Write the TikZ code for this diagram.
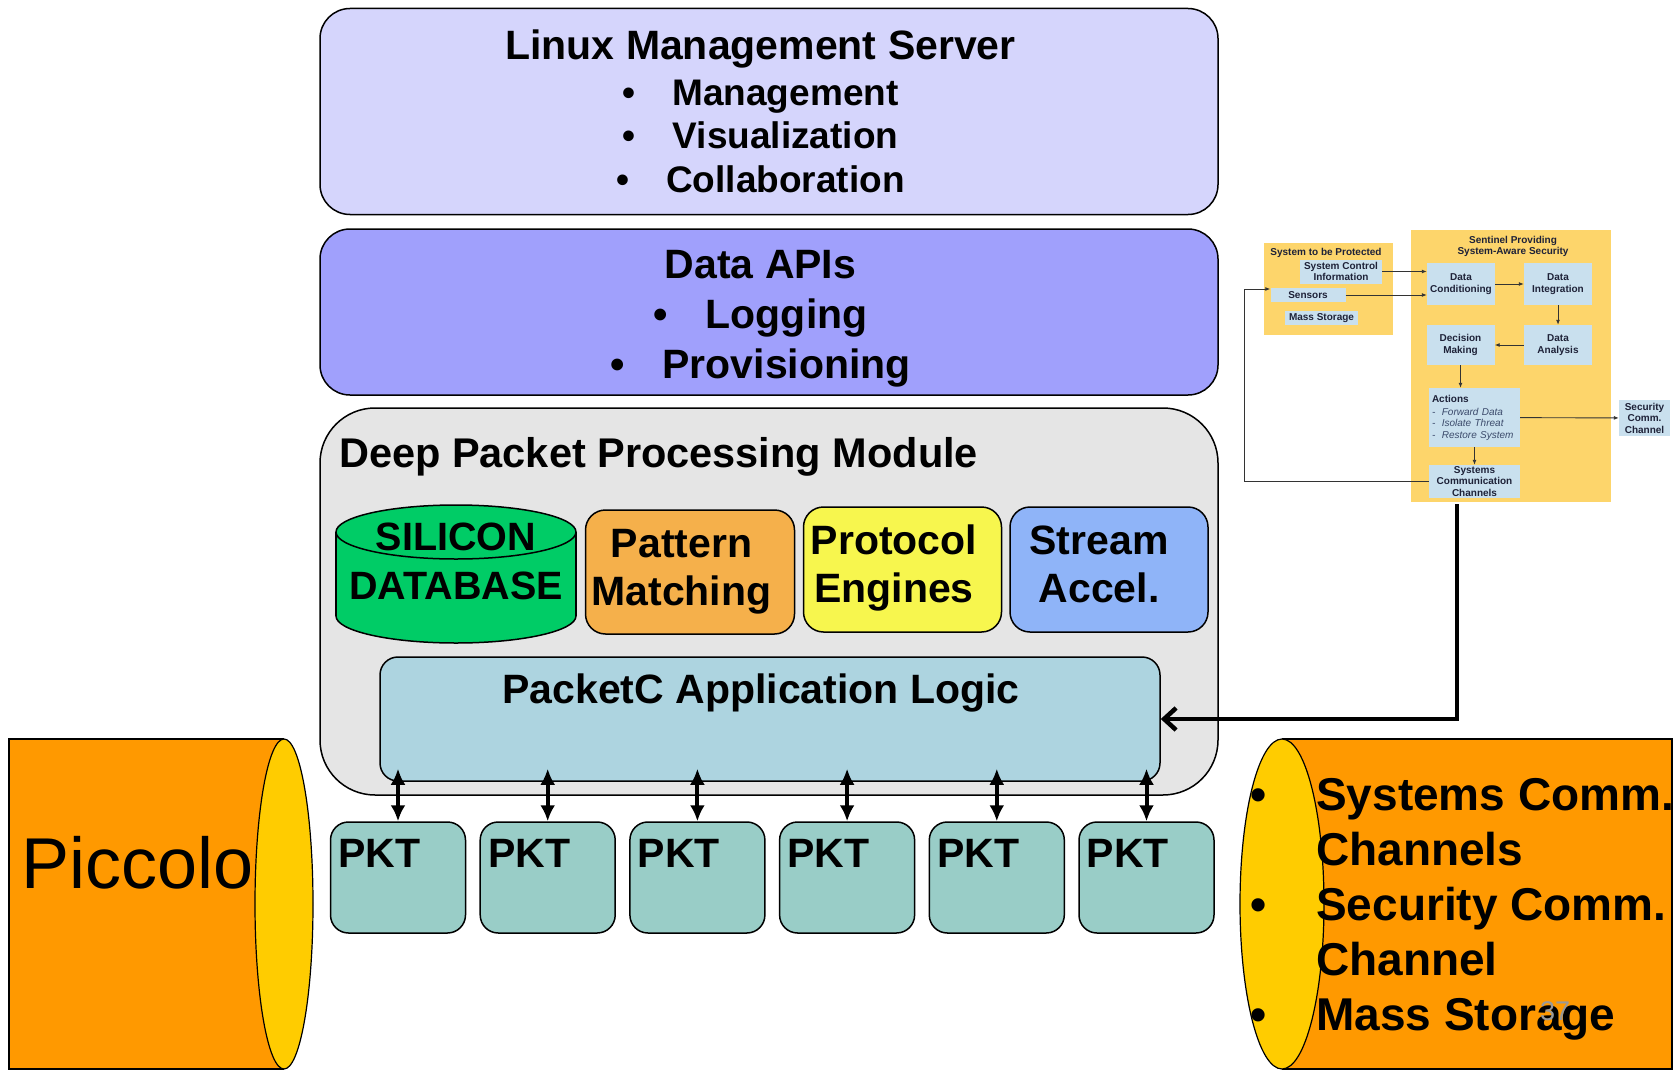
\documentclass[tikz,border=0pt]{standalone}
\usepackage{fontspec}
\setmainfont{Liberation Sans}
\usetikzlibrary{positioning,arrows.meta,calc}

\definecolor{mgmtfill}{HTML}{D5D5FC}
\definecolor{apifill}{HTML}{A0A0FC}
\definecolor{dppfill}{HTML}{E5E5E5}
\definecolor{dbfill}{HTML}{00CC66}
\definecolor{patfill}{HTML}{F5B04B}
\definecolor{protofill}{HTML}{F7F64E}
\definecolor{streamfill}{HTML}{8FB4F8}
\definecolor{appfill}{HTML}{ADD4E0}
\definecolor{pktfill}{HTML}{99CDC7}
\definecolor{pipefill}{HTML}{FF9900}
\definecolor{capfill}{HTML}{FFCC00}
\definecolor{insetyellow}{HTML}{FDD56B}
\definecolor{insetblue}{HTML}{C9E0EE}
\definecolor{insettext}{HTML}{1E2238}
\definecolor{insetitalic}{HTML}{3B4A6B}

\tikzset{
  layer/.style={draw, line width=1.5pt, rounded corners=30pt, inner sep=0pt},
  unit/.style={draw, line width=1.5pt, rounded corners=20pt, inner sep=0pt},
  head/.style={inner sep=0pt, align=center, font=\fontsize{41}{48}\selectfont\bfseries},
  pktbox/.style={draw, line width=1.5pt, rounded corners=18pt, fill=pktfill,
    minimum width=135pt, minimum height=111pt},
  link/.style={{Latex[length=16pt,width=15pt]}-{Latex[length=16pt,width=15pt]}, line width=4pt},
  feed/.style={-{Straight Barb[length=12pt,width=22pt]}, line width=4.5pt},
  panel/.style={fill=insetyellow, inner sep=0pt},
  inbox/.style={fill=insetblue, inner sep=0pt, align=center, text=insettext,
    font=\fontsize{10}{11.5}\selectfont\bfseries},
  intitle/.style={inner sep=0pt, align=center, text=insettext,
    font=\fontsize{10}{11.5}\selectfont\bfseries},
  flow/.style={-{Latex[length=5pt,width=4pt]}, line width=0.9pt, draw=black!80},
}

\begin{document}
\begin{tikzpicture}[x=1pt, y=-1pt]
  \useasboundingbox (0,0) rectangle (1673,1070);

  % Linux management server
  \node[layer, fill=mgmtfill, minimum width=898pt, minimum height=206pt] (mgmt) at (769,111.5) {};
  \node[head, font=\fontsize{37}{43.5}\selectfont\bfseries] (mgmttext) at (760.5,111.5)
    {{\fontsize{41}{48}\selectfont Linux Management Server}\\[2pt]
     \textbullet\hspace{37pt}Management\\
     \textbullet\hspace{37pt}Visualization\\
     \textbullet\hspace{37pt}Collaboration};

  % Data APIs
  \node[layer, fill=apifill, minimum width=898pt, minimum height=166pt] (api) at (769,312) {};
  \node[head, font=\fontsize{41}{50}\selectfont\bfseries] (apitext) at (760.5,318.5)
    {Data APIs\\
     \textbullet\hspace{38pt}Logging\\
     \textbullet\hspace{38pt}Provisioning};

  % Deep packet processing module
  \node[layer, fill=dppfill, rounded corners=55pt, minimum width=898pt,
    minimum height=387pt] (dpp) at (769,601.5) {};
  \node[head, anchor=base west, font=\fontsize{41.5}{48}\selectfont\bfseries] (dpptitle)
    at (339,467.5) {Deep Packet Processing Module};

  % Silicon database
  \draw[fill=dbfill, line width=1.5pt] (456,616) ellipse [x radius=120, y radius=27];
  \fill[dbfill] (336,532) rectangle (576,616);
  \draw[line width=1.5pt] (336,532) -- (336,616) (576,532) -- (576,616);
  \draw[fill=dbfill, line width=1.5pt] (456,532) ellipse [x radius=120, y radius=27];
  \node[head, font=\fontsize{39.5}{49}\selectfont\bfseries] (silicon)
    at (456,561.5) {SILICON\\DATABASE};

  % Engines
  \node[unit, fill=patfill, minimum width=209pt, minimum height=124pt] (pattern) at (690,572) {};
  \node[head] (patterntext) at (681.5,572) {Pattern\\Matching};
  \node[unit, fill=protofill, minimum width=198pt, minimum height=125pt] (protocol) at (902.5,569.5) {};
  \node[head] (protocoltext) at (894,567.5) {Protocol\\Engines};
  \node[unit, fill=streamfill, minimum width=198pt, minimum height=125pt] (stream) at (1109,569.5) {};
  \node[head] (streamtext) at (1099,564.5) {Stream\\Accel.};

  % PacketC application logic
  \node[unit, fill=appfill, rounded corners=18pt, minimum width=780pt,
    minimum height=124pt] (app) at (770,719) {};
  \node[head, anchor=base] (apptitle) at (761,703.5) {PacketC Application Logic};

  % Packet engines
  \foreach \i in {1,...,6} {
    \node[pktbox] (pkt\i) at ({398+149.7*(\i-1)},877.5) {};
    \node[head, anchor=base west] (pkttext\i) at ($(pkt\i.north west)+(8.5,46)$) {PKT};
    \draw[link] ($(pkt\i.north |- app.south)+(0,-13)$) -- (pkt\i.north);
  }

  % Piccolo
  \fill[pipefill] (9,739) rectangle (284,1069);
  \draw[line width=1.2pt] (284,739) -- (9,739) -- (9,1069) -- (284,1069);
  \draw[fill=capfill, line width=1.2pt] (284,904) ellipse [x radius=29, y radius=165];
  \node[inner sep=0pt, anchor=base, font=\fontsize{72}{80}\selectfont] (piccolo)
    at (138,888) {Piccolo};

  % Outputs
  \fill[pipefill] (1282,739) rectangle (1672,1069);
  \draw[line width=1.2pt] (1282,739) -- (1672,739) -- (1672,1069) -- (1282,1069);
  \draw[fill=capfill, line width=1.2pt] (1282,904) ellipse [x radius=42, y radius=165];
  \node[inner sep=0pt, anchor=north west, align=left,
    font=\fontsize{46}{55}\selectfont\bfseries] (outputs) at (1250,778)
    {\makebox[66pt][l]{\textbullet}Systems Comm.\\
     \hspace*{66pt}Channels\\
     \makebox[66pt][l]{\textbullet}Security Comm.\\
     \hspace*{66pt}Channel\\
     \makebox[66pt][l]{\textbullet}Mass Storage};
  \node[inner sep=0pt, text=black!40, font=\fontsize{27}{30}\selectfont] (pagenum)
    at (1555,1011) {37};

  % Sentinel inset
  \node[panel, minimum width=129pt, minimum height=92pt] (protected) at (1328.5,288.5) {};
  \node[intitle] (protectedtitle) at (1326,253) {System to be Protected};
  \node[inbox, minimum width=82pt, minimum height=24pt] (sysctl) at (1341,271.5)
    {System Control\\Information};
  \node[inbox, minimum width=75pt, minimum height=14pt] (sensors) at (1308,295) {Sensors};
  \node[inbox, minimum width=73pt, minimum height=14pt] (massstore) at (1321.5,318)
    {Mass Storage};

  \node[panel, minimum width=200pt, minimum height=272pt] (sentinel) at (1511,366) {};
  \node[intitle] (sentineltitle) at (1513,246.5) {Sentinel Providing\\System-Aware Security};
  \node[inbox, minimum width=68pt, minimum height=42pt] (dcond) at (1461,284)
    {Data\\Conditioning};
  \node[inbox, minimum width=68pt, minimum height=42pt] (dinteg) at (1558,284)
    {Data\\Integration};
  \node[inbox, minimum width=68pt, minimum height=40pt] (danal) at (1558,345)
    {Data\\Analysis};
  \node[inbox, minimum width=68pt, minimum height=40pt] (dmake) at (1460.5,345)
    {Decision\\Making};
  \node[inbox, text width=85pt, inner xsep=3pt, align=left, minimum height=59pt]
    (actions) at (1474.5,417.5)
    {Actions\\[1.5pt]
     {\mdseries\itshape\color{insetitalic}-\hspace{6.5pt}Forward Data}\\
     {\mdseries\itshape\color{insetitalic}-\hspace{6.5pt}Isolate Threat}\\
     {\mdseries\itshape\color{insetitalic}-\hspace{6.5pt}Restore System}};
  \node[inbox, minimum width=91pt, minimum height=33pt] (syscomm) at (1474.5,481.5)
    {Systems\\Communication\\Channels};
  \node[inbox, minimum width=51pt, minimum height=36pt] (seccomm) at (1644.5,418)
    {Security\\Comm.\\Channel};

  \draw[flow] (sysctl.east) -- (sysctl.east -| dcond.west);
  \draw[flow] (sensors.east) -- (sensors.east -| dcond.west);
  \draw[flow] (dcond) -- (dinteg);
  \draw[flow] (dinteg) -- (danal);
  \draw[flow] (danal) -- (dmake);
  \draw[flow] (dmake.south) -- (dmake.south |- actions.north);
  \draw[flow] (actions) -- (syscomm);
  \draw[flow] (actions) -- (seccomm);
  \coordinate (fbleft) at (1244,289);
  \draw[flow] (syscomm.west) -| (fbleft) -- (fbleft -| sensors.west);

  % Feedback into the application logic
  \coordinate (elbow) at (1457,719);
  \draw[feed, shorten <=6pt] (syscomm.south -| elbow) -- (elbow) -- (elbow -| app.east);
\end{tikzpicture}
\end{document}
